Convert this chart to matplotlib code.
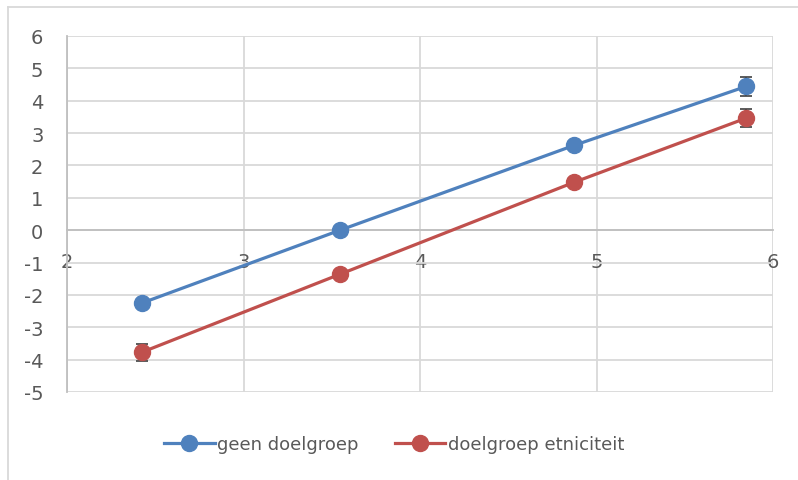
import matplotlib.pyplot as plt
from matplotlib.lines import Line2D

# data
x_vals = [2.425, 3.547, 4.873, 5.847]
geen = [-2.25, 0.0, 2.62, 4.44]
geen_err = [0.12, 0.1, 0.1, 0.29]
etnic = [-3.77, -1.36, 1.48, 3.46]
etnic_err = [0.26, 0.1, 0.12, 0.28]
labels = ['geen doelgroep', 'doelgroep etniciteit']
colors = ['#4F81BD', '#C0504D']

txt = '#595959'
grid = '#d9d9d9'
fs = 14

fig = plt.figure(figsize=(7.98, 4.81), dpi=100)
ax = fig.add_axes([67 / 798, 88 / 481, 706 / 798, 356 / 481])

for y, e, c, lab in [(geen, geen_err, colors[0], labels[0]),
                     (etnic, etnic_err, colors[1], labels[1])]:
    ax.errorbar(x_vals, y, yerr=e, fmt='none', ecolor='#404040',
                elinewidth=1.2, capsize=4.5, capthick=1.2, zorder=2)
    ax.plot(x_vals, y, '-o', color=c, lw=2.3, markersize=11.5,
            label=lab, zorder=3)

ax.set_xlim(2, 6)
ax.set_ylim(-5, 6)
ax.set_xticks([2, 3, 4, 5, 6])
ax.set_yticks(range(-5, 7))
ax.set_yticklabels([str(v) for v in range(-5, 7)])
ax.grid(True, color=grid, lw=1.3, zorder=0)
ax.set_axisbelow(True)

for s in ['top', 'right']:
    ax.spines[s].set_visible(False)
ax.spines['left'].set_color('#bfbfbf')
ax.spines['left'].set_linewidth(1.3)
ax.spines['bottom'].set_position(('data', 0))
ax.spines['bottom'].set_color('#bfbfbf')
ax.spines['bottom'].set_linewidth(1.3)

ax.tick_params(axis='both', length=0, labelsize=fs, colors=txt)
ax.tick_params(axis='y', pad=17)
ax.tick_params(axis='x', pad=16)

# chart area border
fig.add_artist(Line2D([8 / 798, 1], [1 - 8 / 481, 1 - 8 / 481],
                      color=grid, lw=1.3))
fig.add_artist(Line2D([8 / 798, 8 / 798], [0, 1 - 8 / 481],
                      color=grid, lw=1.3))

leg = fig.legend(loc='center', bbox_to_anchor=(0.494, 0.075), ncol=2,
                 frameon=False, fontsize=13, handlelength=2.8,
                 handletextpad=0.15, columnspacing=2.0)
for t in leg.get_texts():
    t.set_color(txt)

fig.savefig('out.png', dpi=100)
